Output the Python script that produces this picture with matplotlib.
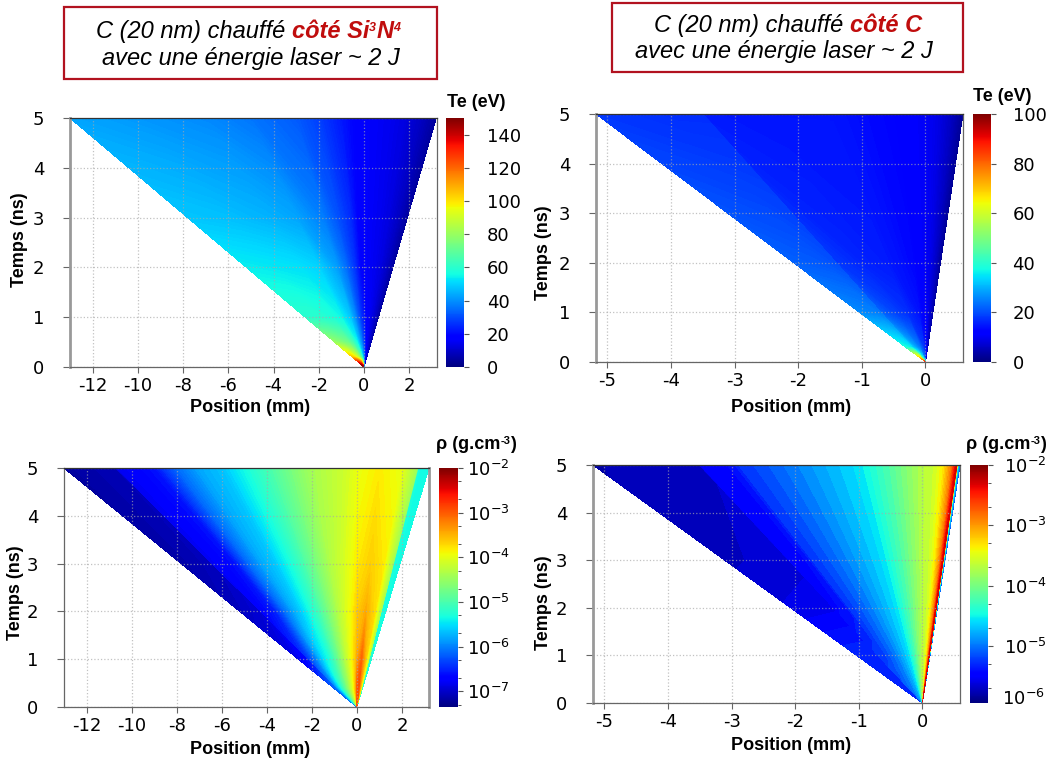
import numpy as np
import matplotlib
matplotlib.use("Agg")
import matplotlib.pyplot as plt
from matplotlib.colors import Normalize, LogNorm
from matplotlib.cm import ScalarMappable
from matplotlib.patches import Rectangle
from matplotlib.ticker import LogLocator, NullFormatter

W, H = 1059, 763

# x/t (mm/ns) des rayons, temps (ns) des lignes
xi_wide = [-2.6, -2.0, -1.4, -1.0, -0.6, -0.4, -0.2, -0.1, 0.0, 0.1, 0.2, 0.35, 0.5, 0.64]
te_a_times = [0.0, 0.05, 0.2, 0.5, 1.0, 2.0, 3.0, 5.0]
te_a = [
    [150, 150, 145, 140, 130, 120, 100, 90, 70, 40, 25, 15, 10, 5],
    [145, 140, 136, 130, 110, 95, 80, 70, 60, 35, 24, 14, 10, 5],
    [105, 100, 90, 80, 68, 58, 48, 42, 36, 28, 22, 15, 10, 6],
    [80, 76, 72, 65, 55, 46, 38, 32, 28, 22, 17, 13, 9, 5],
    [60, 60, 58, 55, 48, 40, 30, 25, 22, 18, 16, 13, 9, 4],
    [54, 53, 52, 50, 42, 35, 26, 20, 17, 16, 15, 13, 9, 4],
    [48, 47, 45, 43, 37, 31, 25, 19, 17, 16, 15, 13, 9, 4],
    [43, 41, 39, 36, 32, 28, 22, 19, 17, 16, 15, 13, 9, 4],
]

xi_narrow = [-1.036, -0.8, -0.701, -0.699, -0.5, -0.3, -0.1, 0.0, 0.04, 0.08, 0.118]
te_b_times = [0.0, 0.05, 0.3, 1.0, 2.0, 5.0]
te_b = [
    [90, 85, 75, 72, 55, 40, 28, 18, 12, 8, 5],
    [75, 70, 62, 60, 45, 35, 25, 18, 12, 8, 5],
    [38, 36, 34, 33, 28, 24, 18, 14, 10, 6, 4],
    [26, 25, 24, 22, 19, 17, 14, 11, 9, 6, 3],
    [22, 21, 20, 18, 16, 15, 13, 10.5, 9, 6, 2],
    [18, 17, 17, 15, 14.5, 14.5, 12.5, 10.5, 9, 6, 2],
]

xi_rho_c = [-2.6, -2.141, -2.139, -1.8, -1.6, -1.4, -1.2, -0.9, -0.4, -0.1, 0.0, 0.2, 0.4, 0.535, 0.545, 0.64]
rho_c_times = [0.0, 0.4, 1.0, 2.0, 3.0, 5.0]
rho_c = [
    [-6.2, -6.0, -5.8, -5.4, -5.2, -5.0, -4.8, -4.5, -4.0, -3.4, -3.0, -2.9, -3.6, -4.2, -5.0, -5.3],
    [-6.2, -6.0, -5.8, -5.4, -5.2, -5.0, -4.8, -4.5, -4.0, -3.4, -3.0, -2.9, -3.6, -4.2, -5.0, -5.3],
    [-6.85, -6.6, -6.4, -6.0, -5.7, -5.45, -5.3, -4.9, -4.15, -3.7, -3.45, -3.05, -3.65, -4.3, -5.2, -5.3],
    [-7.05, -6.95, -6.75, -6.5, -6.1, -5.8, -5.55, -5.15, -4.3, -3.85, -3.65, -3.45, -3.75, -4.4, -5.3, -5.35],
    [-7.15, -7.05, -6.8, -6.6, -6.12, -5.8, -5.62, -5.2, -4.35, -3.98, -3.82, -3.66, -3.82, -4.45, -5.3, -5.35],
    [-7.19, -7.08, -6.82, -6.6, -6.12, -5.8, -5.65, -5.2, -4.41, -4.14, -3.98, -3.82, -3.98, -4.46, -5.32, -5.37],
]

xi_rho_d = [-1.036, -0.702, -0.698, -0.6, -0.58, -0.4, -0.2, -0.1, 0.0, 0.04, 0.066, 0.092, 0.104, 0.108, 0.111, 0.118]
rho_d_times = [0.0, 1.0, 2.0, 3.0, 5.0]
rho_d = [
    [-5.28, -5.15, -5.0, -4.95, -4.9, -4.8, -4.5, -4.17, -3.7, -3.58, -3.34, -2.87, -2.39, -2.27, -4.49, -5.16],
    [-5.3, -5.28, -5.25, -5.22, -5.2, -4.96, -4.57, -4.17, -3.7, -3.58, -3.34, -2.87, -2.39, -2.27, -4.49, -5.16],
    [-5.6, -5.55, -5.48, -5.4, -5.28, -4.96, -4.57, -4.17, -3.7, -3.58, -3.34, -2.87, -2.39, -2.27, -4.49, -5.16],
    [-5.72, -5.65, -5.48, -5.44, -5.28, -4.96, -4.57, -4.17, -3.7, -3.58, -3.34, -2.87, -2.39, -2.27, -4.49, -5.16],
    [-5.79, -5.71, -5.48, -5.44, -5.28, -4.96, -4.57, -4.17, -3.7, -3.58, -3.34, -2.87, -2.39, -2.27, -4.49, -5.16],
]

xticks_wide = [-12, -10, -8, -6, -4, -2, 0, 2]
xticks_narrow = [-5, -4, -3, -2, -1, 0]
yticks = [0, 1, 2, 3, 4, 5]
te_a_ticks = [0, 20, 40, 60, 80, 100, 120, 140]
te_b_ticks = [0, 20, 40, 60, 80, 100]

plt.rcParams['font.family'] = ['DejaVu Sans']
plt.rcParams['axes.unicode_minus'] = False
RED = '#b2121f'
BOLD = 'Liberation Sans'


def pix_axes(fig, l, t, r, b):
    return fig.add_axes([l / W, 1 - b / H, (r - l) / W, (b - t) / H])


def field(fig, box, xi, times, table, vmin, vmax, nlev, xlim, xticks, thick, xlab, ylab):
    ax = pix_axes(fig, *box)
    l, t, r, b = box
    xi_grid, t_grid = np.meshgrid(xi, times)
    levels = np.linspace(vmin, vmax, nlev)
    ax.contourf(xi_grid * t_grid, t_grid, np.array(table), levels=levels, cmap='jet', extend='both')
    ax.set_xlim(xlim)
    ax.set_ylim(0, 5)
    ax.set_xticks(xticks)
    ax.set_yticks(yticks)
    ax.tick_params(axis='y', direction='out', length=5, width=0.8, color='#666666', labelsize=13, pad=13.5)
    ax.tick_params(axis='x', direction='out', length=4, width=0.8, color='#666666', labelsize=13, pad=3)
    ax.grid(True, color='#a8a8a8', linestyle=':', linewidth=0.9, alpha=0.7)
    ax.set_axisbelow('line')
    for name, sp in ax.spines.items():
        sp.set_color('#666666')
        sp.set_linewidth(0.9)
    ax.spines['top'].set_color('#333333')
    ax.spines[thick].set_color('#999999')
    ax.spines[thick].set_linewidth(2)
    ax.set_xlabel('Position (mm)', fontfamily=BOLD, fontweight='bold', fontsize=13, va='center')
    ax.set_ylabel('Temps (ns)', fontfamily=BOLD, fontweight='bold', fontsize=13, va='center')
    ax.xaxis.set_label_coords((xlab[0] - l) / (r - l), (b - xlab[1]) / (b - t))
    ax.yaxis.set_label_coords((ylab[0] - l) / (r - l), (b - ylab[1]) / (b - t))
    return ax


def chain(fig, x, y, parts, style='italic', color='#c00d0d'):
    # morceaux de texte mis bout a bout sur la meme ligne
    rend = fig.canvas.get_renderer()
    for txt, bold, size, rise in parts:
        t = fig.text(x / W, 1 - (y - rise) / H, txt, fontfamily=BOLD, fontstyle=style,
                     fontweight='bold' if bold else 'normal', fontsize=size,
                     color=color if bold else 'black', va='baseline', ha='left')
        x = t.get_window_extent(rend).x1


def cbar(fig, box, norm, ticks, pad):
    cax = pix_axes(fig, *box)
    cb = fig.colorbar(ScalarMappable(norm=norm, cmap='jet'), cax=cax)
    cb.outline.set_visible(False)
    if ticks is not None:
        cb.set_ticks(ticks)
    cax.tick_params(axis='y', which='major', direction='out', length=3.5, width=0.8, color='#555555', labelsize=13, pad=pad)
    return cb


def log_ticks(cb):
    cb.ax.yaxis.set_major_locator(LogLocator(base=10))
    cb.ax.yaxis.set_minor_locator(LogLocator(base=10, subs=[2, 5]))
    cb.ax.yaxis.set_minor_formatter(NullFormatter())
    cb.ax.tick_params(axis='y', which='minor', direction='out', length=2.5, width=0.7, color='#555555')


fig = plt.figure(figsize=(W / 100, H / 100), dpi=100)
fig.canvas.draw()

field(fig, (70, 118, 437, 367), xi_wide, te_a_times, te_a, 0, 150, 600, (-13.0, 3.23), xticks_wide, 'left',
      (250, 407), (20, 240))
cbar(fig, (446, 118, 464, 367), Normalize(0, 150), te_a_ticks, 13)

field(fig, (596, 114, 963, 362), xi_narrow, te_b_times, te_b, 0, 100, 600, (-5.18, 0.59), xticks_narrow, 'left',
      (791, 407), (543, 253))
cbar(fig, (973, 114, 991, 362), Normalize(0, 100), te_b_ticks, 12)

field(fig, (64, 468, 429, 707), xi_rho_c, rho_c_times, rho_c, -7.35, -2, 120, (-13.0, 3.2), xticks_wide, 'right',
      (250, 749), (16, 593))
log_ticks(cbar(fig, (439, 468, 458, 707), LogNorm(10 ** -7.35, 1e-2), None, 3))

field(fig, (593, 465, 960, 703), xi_rho_d, rho_d_times, rho_d, -5.95, -2, 48, (-5.18, 0.59), xticks_narrow, 'left',
      (791, 745), (543, 603))
cb = cbar(fig, (970, 465, 988, 703), LogNorm(10 ** -5.95, 1e-2), None, 8)
log_ticks(cb)
cb.ax.text(1.8, 0.015, '10$^{-6}$', transform=cb.ax.transAxes, fontsize=13, va='center', ha='left')

fig.add_artist(Rectangle((63.5, H - 79), 373, 72, transform=None, fill=False, edgecolor=RED, linewidth=1.6))
fig.add_artist(Rectangle((612, H - 72), 351, 69, transform=None, fill=False, edgecolor=RED, linewidth=1.6))

TS = 17
chain(fig, 96, 38, [('C (20 nm) chauffé ', False, TS, 0), ('côté Si', True, TS, 0), ('3', True, 9, 7),
                    ('N', True, TS, 0), ('4', True, 9, 7)])
chain(fig, 102, 65, [('avec une énergie laser ~ 2 J', False, TS, 0)])
chain(fig, 654, 32, [('C (20 nm) chauffé ', False, TS, 0), ('côté C', True, TS, 0)])
chain(fig, 635, 58, [('avec une énergie laser ~ 2 J', False, TS, 0)])

# titres des barres de couleur
chain(fig, 447, 107, [('Te (eV)', True, 13, 0)], style='normal', color='black')
chain(fig, 973, 101, [('Te (eV)', True, 13, 0)], style='normal', color='black')
rho_title = [('ρ (g.cm', True, 13, 0), ('-3', True, 8, 5), (')', True, 13, 0)]
chain(fig, 436, 449, rho_title, style='normal', color='black')
chain(fig, 966, 449, rho_title, style='normal', color='black')

fig.savefig('out.png', dpi=100)
